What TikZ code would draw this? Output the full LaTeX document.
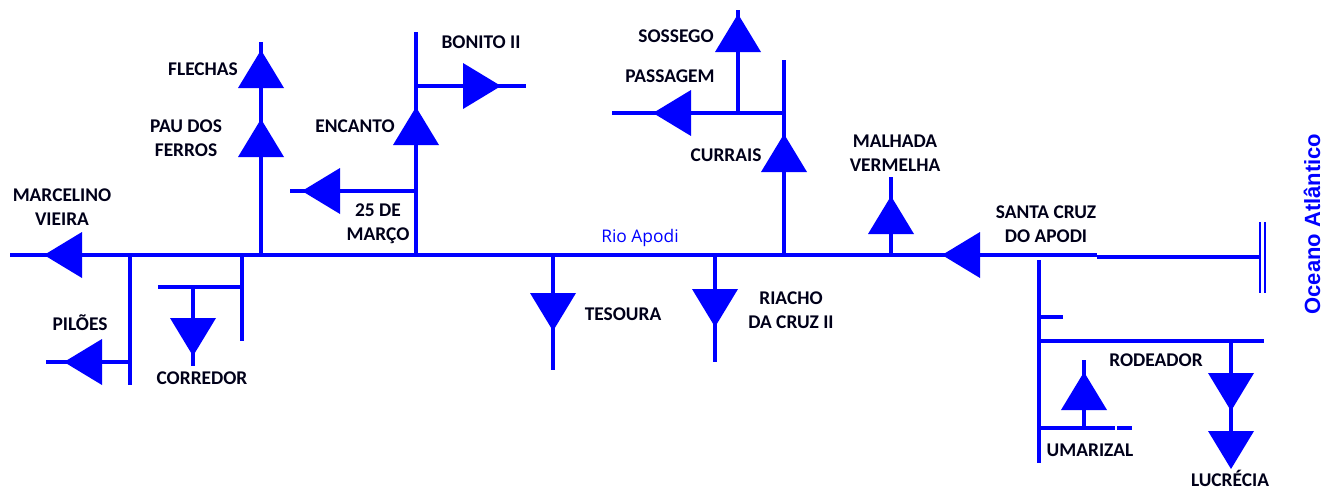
\documentclass[tikz,border=0pt]{standalone}
\usepackage{fontspec}
\setmainfont{Carlito}
\usetikzlibrary{shapes.geometric}
\newfontfamily\oceanfont{Liberation Sans}
\newfontfamily\riofont{Open Sans}
\definecolor{rioblue}{RGB}{0,0,255}
\tikzset{
	dam/.style={isosceles triangle, isosceles triangle stretches, fill=rioblue, inner sep=0pt, outer sep=0pt, minimum width=46pt, minimum height=38pt, anchor=apex},
	damup/.style={dam, shape border rotate=90},
	damdown/.style={dam, shape border rotate=-90},
	damleft/.style={dam, shape border rotate=180},
	damright/.style={dam, shape border rotate=0},
	river/.style={draw=rioblue, line width=4pt},
	coast/.style={draw=rioblue, line width=2pt},
	place/.style={font=\fontsize{19.4}{23.5}\selectfont\bfseries, align=center, inner sep=0pt, text=black!90!blue}
}
\begin{document}
\begin{tikzpicture}[x=1pt, y=-1pt]
	\useasboundingbox (0,0) rectangle (1337,491);
	% barragens
	\node[damleft] (marcelino) at (44,255) {};
	\node[damleft] (piloes) at (64,362) {};
	\node[damdown] (corredor) at (193,356) {};
	\node[damup] (pau) at (261,119) {};
	\node[damup] (flechas) at (261,50) {};
	\node[damup] (encanto) at (416,107) {};
	\node[damleft] (marco) at (302,191) {};
	\node[damright] (bonito) at (501,86) {};
	\node[damdown] (tesoura) at (553,331) {};
	\node[damdown] (riacho) at (715,327) {};
	\node[damup] (sossego) at (738,14) {};
	\node[damleft] (passagem) at (653,113) {};
	\node[damup] (currais) at (784,134) {};
	\node[damup] (malhada) at (891,196) {};
	\node[damleft] (santacruz) at (942,255) {};
	\node[damdown] (rodeador) at (1231,411) {};
	\node[damdown] (lucrecia) at (1231,469) {};
	\node[damup] (umarizal) at (1084,372) {};

	% pontos do rio
	\coordinate (w0) at (10,255);
	\coordinate (j130) at (130,255);
	\coordinate (j242) at (242,255);
	\coordinate (j261) at (261,255);
	\coordinate (j416) at (416,255);
	\coordinate (j553) at (553,255);
	\coordinate (j715) at (715,255);
	\coordinate (j784) at (784,255);
	\coordinate (j891) at (891,255);
	\coordinate (e0) at (1097,255);
	\coordinate (e1) at (1097,256.5);
	\coordinate (mouth) at (1259,256.5);
	\coordinate (piloes0) at (46,362);
	\coordinate (piloes1) at (130,362);
	\coordinate (a130) at (130,385);
	\coordinate (c0) at (158,287);
	\coordinate (c1) at (193,287);
	\coordinate (c2) at (242,287);
	\coordinate (c3) at (242,341);
	\coordinate (c4) at (193,366);
	\coordinate (flechas0) at (261,42);
	\coordinate (m0) at (290,191);
	\coordinate (m1) at (416,191);
	\coordinate (b0) at (416,86);
	\coordinate (b1) at (526,86);
	\coordinate (b2) at (416,32);
	\coordinate (t0) at (553,370);
	\coordinate (r0) at (715,362);
	\coordinate (p0) at (612,113);
	\coordinate (p1) at (738,113);
	\coordinate (p2) at (784,113);
	\coordinate (p3) at (784,60);
	\coordinate (s0) at (738,10);
	\coordinate (h0) at (891,177);
	\coordinate (k0) at (1039,260);
	\coordinate (k1) at (1039,317);
	\coordinate (k2) at (1063,317);
	\coordinate (k3) at (1039,341);
	\coordinate (k4) at (1264,341);
	\coordinate (k5) at (1231,341);
	\coordinate (k6) at (1039,428);
	\coordinate (k7) at (1084,428);
	\coordinate (k8) at (1115,428);
	\coordinate (k9) at (1117,428);
	\coordinate (k10) at (1132,428);
	\coordinate (k11) at (1039,463);
	\coordinate (u0) at (1084,360);
	\coordinate (o0) at (1260,222);
	\coordinate (o1) at (1260,293);
	\coordinate (o2) at (1265,222);
	\coordinate (o3) at (1265,293);

	\draw[river] (w0) -- (marcelino.center);
	\draw[river] (marcelino.center) -- (santacruz.center);
	\draw[river] (santacruz.center) -- (e0);
	\draw[river] (e1) -- (mouth);
	\draw[coast] (o0) -- (o1);
	\draw[coast] (o2) -- (o3);

	\draw[river] (j130) -- (a130);
	\draw[river] (piloes1) -- (piloes.center);
	\draw[river] (piloes.center) -- (piloes0);
	\draw[river] (j242) -- (c3);
	\draw[river] (c2) -- (c0);
	\draw[river] (c1) -- (corredor.center);
	\draw[river] (corredor.center) -- (c4);

	\draw[river] (j261) -- (pau.center);
	\draw[river] (pau.center) -- (flechas.center);
	\draw[river] (flechas.center) -- (flechas0);
	\draw[river] (j416) -- (encanto.center);
	\draw[river] (m1) -- (marco.center);
	\draw[river] (marco.center) -- (m0);
	\draw[river] (encanto.center) -- (b2);
	\draw[river] (b0) -- (bonito.center);
	\draw[river] (bonito.center) -- (b1);

	\draw[river] (j553) -- (tesoura.center);
	\draw[river] (tesoura.center) -- (t0);
	\draw[river] (j715) -- (riacho.center);
	\draw[river] (riacho.center) -- (r0);

	\draw[river] (j784) -- (currais.center);
	\draw[river] (currais.center) -- (p3);
	\draw[river] (p2) -- (passagem.center);
	\draw[river] (passagem.center) -- (p0);
	\draw[river] (p1) -- (sossego.center);
	\draw[river] (sossego.center) -- (s0);
	\draw[river] (j891) -- (malhada.center);
	\draw[river] (malhada.center) -- (h0);

	\draw[river] (k0) -- (k11);
	\draw[river] (k1) -- (k2);
	\draw[river] (k3) -- (k4);
	\draw[river] (k5) -- (rodeador.center);
	\draw[river] (rodeador.center) -- (lucrecia.center);
	\draw[river] (k6) -- (k8);
	\draw[river] (k9) -- (k10);
	\draw[river] (k7) -- (umarizal.center);
	\draw[river] (umarizal.center) -- (u0);

	% nomes
	\node[place] (tmarcelino) at (62,207) {MARCELINO\\VIEIRA};
	\node[place] (tpiloes) at (80,323) {PILÕES};
	\node[place] (tcorredor) at (202,378) {CORREDOR};
	\node[place] (tflechas) at (203,69) {FLECHAS};
	\node[place] (tpau) at (186,138) {PAU DOS\\FERROS};
	\node[place] (tencanto) at (355,126) {ENCANTO};
	\node[place] (tmarco) at (378,224) {25 DE\\MARÇO};
	\node[place] (tbonito) at (481,42) {BONITO II};
	\node[place] (tsossego) at (676,36) {SOSSEGO};
	\node[place] (tpassagem) at (670,76) {PASSAGEM};
	\node[place] (tcurrais) at (726,155) {CURRAIS};
	\node[place] (tmalhada) at (895,153) {MALHADA\\VERMELHA};
	\node[place] (tsanta) at (1046,224) {SANTA CRUZ\\DO APODI};
	\node[place] (ttesoura) at (623,314) {TESOURA};
	\node[place] (triacho) at (791,310) {RIACHO\\DA CRUZ II};
	\node[place] (trodeador) at (1156,360) {RODEADOR};
	\node[place] (tumarizal) at (1090,450) {UMARIZAL};
	\node[place] (tlucrecia) at (1230,478) {LUCRÉCIA};
	\node[inner sep=0pt, text=rioblue, font=\riofont\fontsize{17.4}{20}\selectfont] (trio) at (640,238) {Rio Apodi};
	\node[inner sep=0pt, text=rioblue, rotate=90, font=\oceanfont\bfseries\fontsize{22}{26}\selectfont] (toceano) at (1312,224) {Oceano Atlântico};
\end{tikzpicture}
\end{document}
